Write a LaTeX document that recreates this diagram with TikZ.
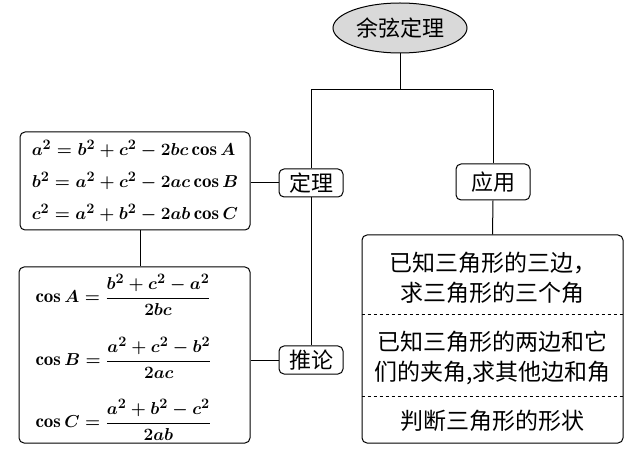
\documentclass[tikz,border=0pt]{standalone}
\usepackage{amsmath}
\usepackage{fontspec}
\newfontfamily\cjk{Noto Sans CJK SC}
\usetikzlibrary{positioning,shapes.geometric}

\tikzset{
    frame/.style={draw, line width=1pt, rounded corners=5pt},
    tag/.style={draw, line width=1pt, rounded corners=5pt, inner sep=2pt,
        minimum width=64pt, minimum height=28pt,
        font=\cjk\fontsize{22}{26}\selectfont},
    txt/.style={align=center, font=\cjk\fontsize{23}{30}\selectfont},
    eq/.style={font=\fontsize{19}{32}\selectfont\boldmath},
    link/.style={line width=1pt},
}

\begin{document}
\begin{tikzpicture}[x=1pt,y=-1pt]
        \useasboundingbox (0,0) rectangle (640,454);
        % top
        \node[ellipse, draw, line width=1pt, fill=gray!30, minimum width=134pt,
            minimum height=50pt, font=\cjk\fontsize{22}{26}\selectfont] (root) at (400,28) {余弦定理};
        \coordinate (fork) at (400,90);
        \coordinate (forkl) at (311,90);
        \coordinate (forkr) at (493,90);
        % branches
        \node[tag] (dingli) at (311,183) {定理};
        \node[tag] (tuilun) at (311,360) {推论};
        \node[tag, minimum width=74pt, minimum height=36pt] (yingyong) at (493,182) {应用};
        % left boxes
        \node[frame, minimum width=230pt, minimum height=98pt] (law) at (135,181) {};
        \node[eq, align=left] (laweq) at (law.center) {$a^2=b^2+c^2-2bc\cos A$\\
            $b^2=a^2+c^2-2ac\cos B$\\ $c^2=a^2+b^2-2ab\cos C$};
        \node[frame, minimum width=231pt, minimum height=176pt] (cosbox) at (134.5,355) {};
        \node[eq, anchor=west] (cosA) at (32,295) {$\cos A=\dfrac{b^2+c^2-a^2}{2bc}$};
        \node[eq, below=14pt of cosA.south west, anchor=north west] (cosB) {$\cos B=\dfrac{a^2+c^2-b^2}{2ac}$};
        \node[eq, below=14pt of cosB.south west, anchor=north west] (cosC) {$\cos C=\dfrac{a^2+b^2-c^2}{2ab}$};
        % right box
        \node[frame, minimum width=261pt, minimum height=208pt] (app) at (492.5,339) {};
        \node[txt] (app1) at (492.5,278) {已知三角形的三边，\\求三角形的三个角};
        \node[txt] (app2) at (492.5,358) {已知三角形的两边和它\\们的夹角,求其他边和角};
        \node[txt] (app3) at (492.5,421) {判断三角形的形状};
        \coordinate (cut1) at (0,315);
        \coordinate (cut2) at (0,396);
        \draw[link, dashed] (app.west |- cut1) -- (app.east |- cut1);
        \draw[link, dashed] (app.west |- cut2) -- (app.east |- cut2);
        % connectors
        \draw[link] (root) -- (fork);
        \draw[link] (forkl) -- (forkr);
        \draw[link] (forkl) -- (dingli.north);
        \draw[link] (dingli.south) -- (tuilun.north);
        \draw[link] (forkr) -- (yingyong.north);
        \draw[link] (yingyong.south) -- (app.north);
        \draw[link] (law.east |- dingli) -- (dingli.west);
        \draw[link] (tuilun.west -| cosbox.east) -- (tuilun.west);
        \draw[link] ([xshift=5pt]law.south) -- ([xshift=5pt]law.south |- cosbox.north);
\end{tikzpicture}
\end{document}
